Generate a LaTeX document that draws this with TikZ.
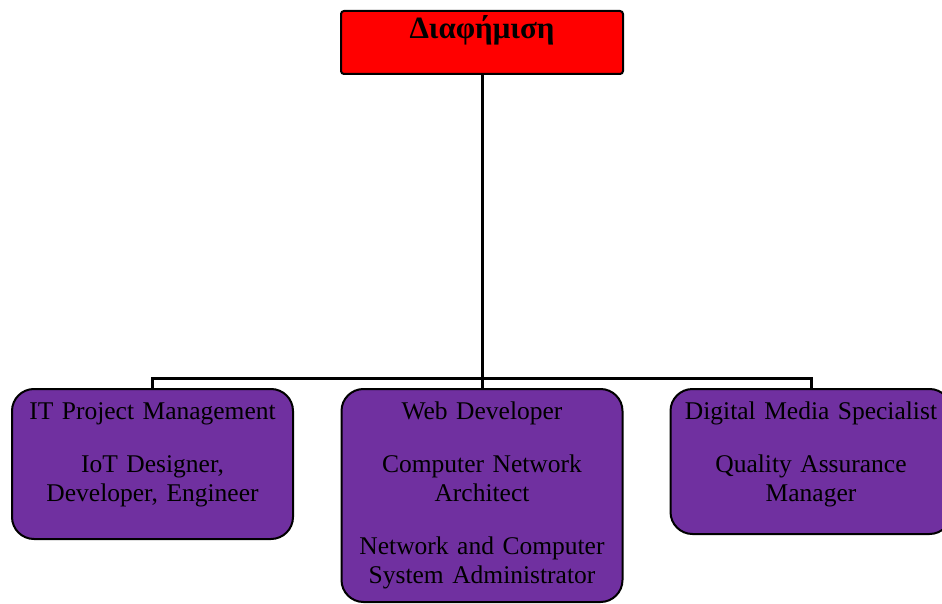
\documentclass[tikz,border=0pt]{standalone}
\usepackage{fontspec}
\setmainfont{Liberation Serif}
\usetikzlibrary{positioning}
\definecolor{jobpurple}{RGB}{112,48,160}
\tikzset{%
	head/.style={draw, line width=2pt, fill=red, rounded corners=3pt,%
		minimum width=282pt, inner xsep=0pt, inner ysep=4pt,%
		text height=24pt, text depth=31pt, font=\fontsize{31}{36}\selectfont\bfseries},
	job/.style={draw, line width=2pt, fill=jobpurple, rounded corners=22pt,%
		text width=281pt, inner xsep=0pt, inner ysep=4pt, align=center,%
		text height=26pt, text depth=#1, font=\fontsize{25.5}{29}\selectfont},
	bus/.style={line width=3pt}
}
\begin{document}
\begin{tikzpicture}[x=1pt, y=-1pt]
	\useasboundingbox (0,0) rectangle (942,604);
	\node[head, anchor=north] (ad) at (482,10) {Διαφήμιση};
	\node[job=116pt, anchor=north] (itpm) at (152.5,388)
		{IT Project Management\\[24pt] IoT Designer,\\ Developer, Engineer};
	\node[job=179pt, anchor=north] (webdev) at (482,388)
		{Web Developer\\[24pt] Computer Network\\ Architect\\[24pt] Network and Computer\\ System Administrator};
	\node[job=111pt, anchor=north] (media) at (811,388)
		{Digital Media Specialist\\[24pt] Quality Assurance\\ Manager};
	\coordinate (fork) at (482,378);
	
	\draw[bus] (ad) -- (fork);
	\draw[bus] (fork) -| (itpm);
	\draw[bus] (fork) -| (media);
	\draw[bus] (fork) -- (webdev);
\end{tikzpicture}
\end{document}
